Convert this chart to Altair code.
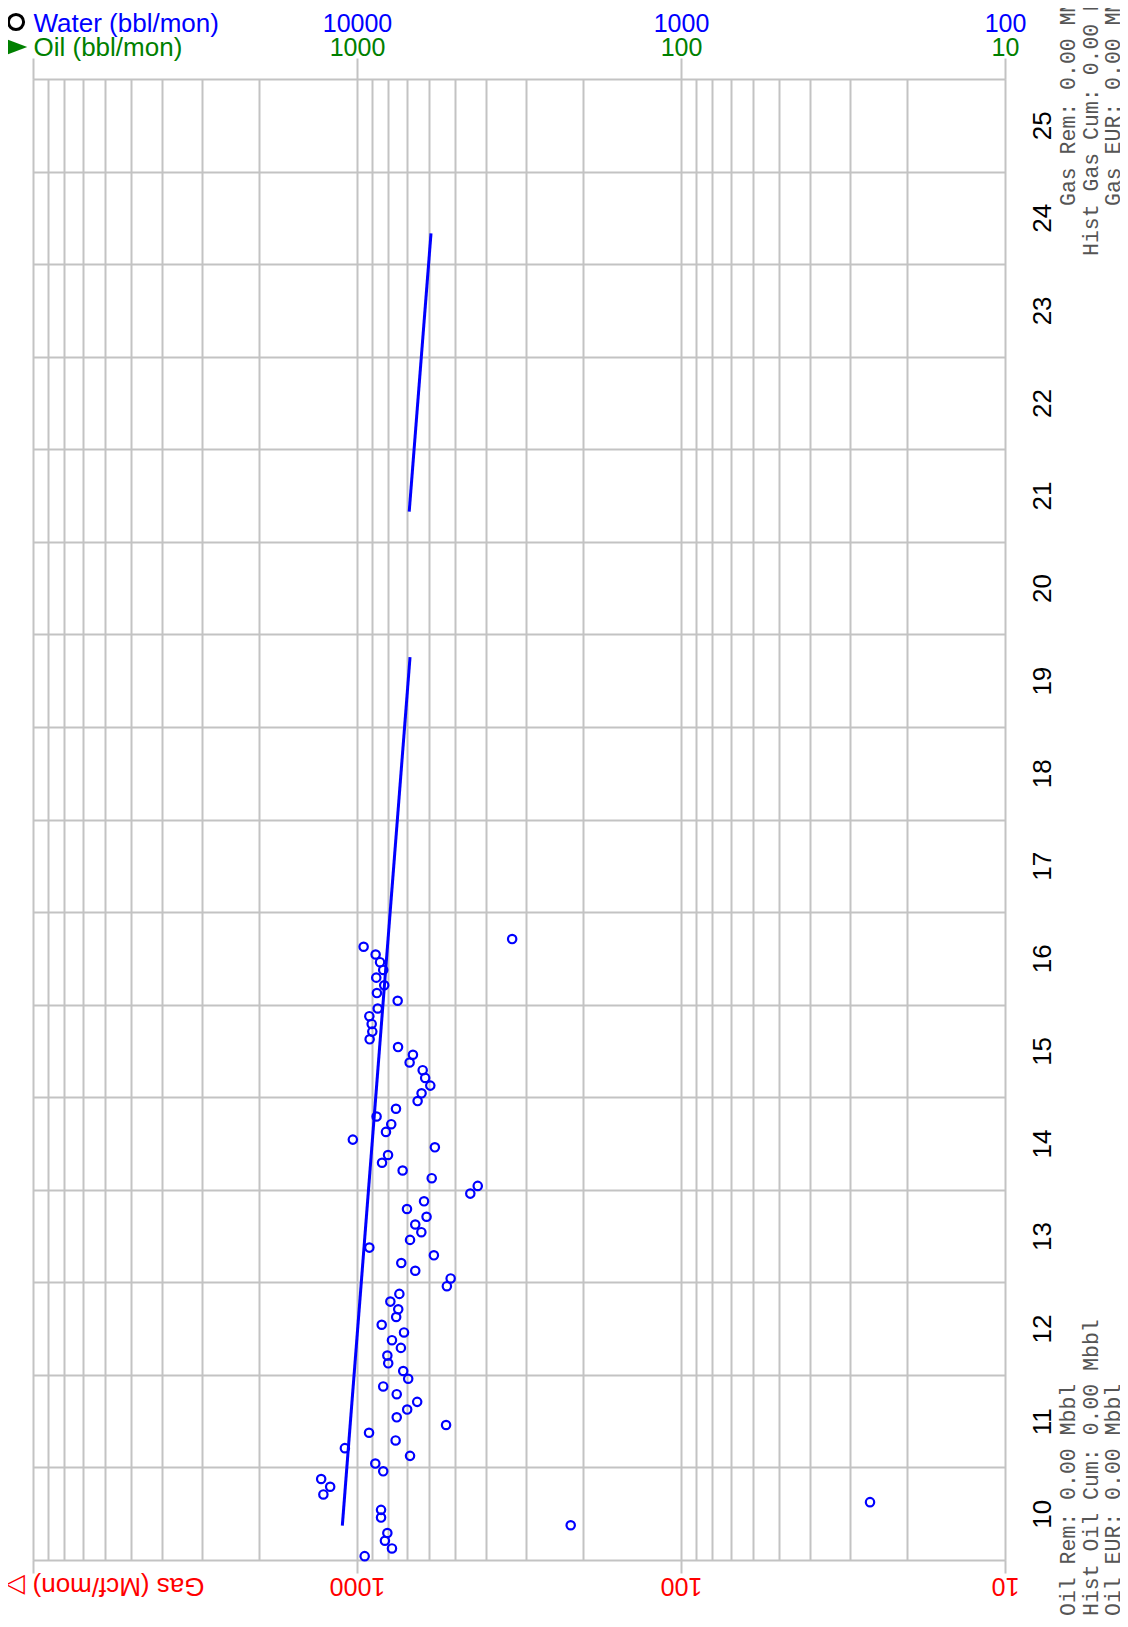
import altair as alt
import pandas as pd

# ---------------- data ----------------
# monthly observations, first month = Jan of year "10"
water = [9470, 7800, 8200, 8060, 2190, 8430, 8430, 261, 12700, 12100,
         12900, 8300, 8780, 6860, 10900, 7600, 9180, 5310, 7540, 7000,
         6520, 7540, 8300, 6950, 7200, 8010, 8060, 7320, 7800, 7160,
         8390, 7570, 7460, 7890, 7400, 5280, 5140, 6610, 7300, 5790,
         9160, 6860, 6330, 6610, 6100, 7010, 6210, 4470, 4240, 5880,
         7230, 8370, 8020, 5750, 10300, 8140, 7840, 8700, 7580, 6500,
         6320, 5940, 6160, 6270, 6880, 6720, 7470, 9140, 8970, 9010,
         9160, 8630, 7490, 8680, 8240, 8720, 8300, 8490, 8760, 9540, 3320]
first_year = 10

# decline-fit segments
fit_year = [10.371, 19.753, 21.326, 24.333]
fit_water = [11100, 6860, 6900, 5910]
fit_seg = ["a", "a", "b", "b"]

# axis values
major_vals = [100000, 10000, 1000, 100]
grid_vals = [m * 10 ** e for e in (2, 3, 4) for m in range(1, 10)] + [100000]
year_grid = list(range(10, 27))
year_label_pos = [y + 0.5 for y in range(10, 26)]

gas_notes = ["Gas Rem: 0.00 MMcf", "Hist Gas Cum: 0.00 MMcf", "Gas EUR: 0.00 MMcf"]
oil_notes = ["Oil Rem: 0.00 Mbbl", "Hist Oil Cum: 0.00 Mbbl", "Oil EUR: 0.00 Mbbl"]

obs = pd.DataFrame({
    "year": [first_year + (i + 0.5) / 12 for i in range(len(water))],
    "water": water,
})
fit = pd.DataFrame({"year": fit_year, "water": fit_water, "seg": fit_seg})
one = pd.DataFrame({"k": [0]})

# ---------------- styles ----------------
GRID = "#c3c3c3"
SANS = "Liberation Sans"
MONO = "Liberation Mono"
BLUE = "#0000ff"
GREEN = "#008000"
RED = "#ff0000"

xscale = alt.Scale(type="log", domain=[100, 100000], reverse=True, nice=False)
yscale = alt.Scale(domain=[10, 26], nice=False, zero=False)

lab = dict(labelFlush=False, labelOverlap=False, labelBound=False,
           labelFont=SANS, labelFontSize=25, labelFontWeight="normal")
ttl = dict(titleFont=SANS, titleFontSize=26, titleFontWeight="normal",
           titleBaseline="alphabetic", titleAlign="left")

# grid
grid_layer = alt.Chart(obs).mark_point(opacity=0).encode(
    x=alt.X("water:Q", scale=xscale, axis=alt.Axis(
        orient="bottom", values=grid_vals, grid=True, gridColor=GRID,
        gridWidth=2, gridOpacity=1, ticks=False, labels=False,
        domain=False, title=None)),
    y=alt.Y("year:Q", scale=yscale, axis=alt.Axis(
        orient="left", values=year_grid, grid=True, gridColor=GRID,
        gridWidth=2, gridOpacity=1, ticks=False, labels=False,
        domain=False, title=None)),
)

# decline line + top blue labels + right year labels
line_layer = alt.Chart(fit).mark_line(color=BLUE, strokeWidth=3).encode(
    x=alt.X("water:Q", scale=xscale, axis=alt.Axis(
        orient="top", values=major_vals, grid=False, domain=False,
        ticks=True, tickSize=21, tickColor=GRID, tickWidth=2,
        labelExpr="datum.value > 50000 ? '' : format(datum.value, 'd')",
        labelColor=BLUE, labelPadding=27, labelBaseline="alphabetic",
        labelAlign="center",
        title="Water (bbl/mon)", titleColor=BLUE, titleX=0, titleY=-48,
        **lab, **ttl)),
    y=alt.Y("year:Q", scale=yscale, axis=alt.Axis(
        orient="right", values=year_label_pos, grid=False, domain=False,
        ticks=True, tickSize=0, tickOpacity=0,
        labelExpr="format(floor(datum.value), 'd')",
        labelAngle=270, labelAlign="center", labelBaseline="alphabetic",
        labelPadding=45, labelColor="black", title=None,
        labelFlush=False, labelOverlap=False, labelBound=False,
        labelFont=SANS, labelFontSize=26, labelFontWeight="normal")),
    detail="seg:N",
)

# top green labels
oil_layer = alt.Chart(obs).mark_point(opacity=0).encode(
    x=alt.X("water:Q", scale=xscale, axis=alt.Axis(
        orient="top", values=major_vals, grid=False, domain=False,
        ticks=True, tickSize=0, tickOpacity=0,
        labelExpr="datum.value > 50000 ? '' : format(datum.value / 10, 'd')",
        labelColor=GREEN, labelPadding=24, labelBaseline="alphabetic",
        labelAlign="center",
        title="Oil (bbl/mon)", titleColor=GREEN, titleX=0, titleY=-24,
        **lab, **ttl)),
    y=alt.Y("year:Q", scale=yscale, axis=None),
)

# bottom red (upside-down) labels
gas_layer = alt.Chart(obs).mark_point(opacity=0).encode(
    x=alt.X("water:Q", scale=xscale, axis=alt.Axis(
        orient="bottom", values=major_vals, grid=False, domain=False,
        ticks=True, tickSize=13, tickColor=GRID, tickWidth=2,
        labelExpr="datum.value > 50000 ? '' : format(datum.value / 10, 'd')",
        labelColor=RED, labelAngle=180, labelPadding=4,
        labelBaseline="alphabetic", labelAlign="center",
        title="Gas (Mcf/mon) \u25b7", titleColor=RED, titleAngle=180,
        titleX=171, titleY=17, **lab, **ttl)),
    y=alt.Y("year:Q", scale=yscale, axis=None),
)

# observations
pts = alt.Chart(obs).mark_point(shape="circle", filled=False, color=BLUE,
                                size=70, strokeWidth=2.2, opacity=1).encode(
    x=alt.X("water:Q", scale=xscale, axis=None),
    y=alt.Y("year:Q", scale=yscale, axis=None),
)

# legend symbols
leg_circle = alt.Chart(one).mark_point(shape="circle", filled=False, color="black",
                                       size=230, strokeWidth=3, opacity=1).encode(
    x=alt.value(-17), y=alt.value(-57))
leg_tri = alt.Chart(one).mark_point(shape="M-1,-0.75L1,0L-1,0.75Z", filled=True,
                                    color=GREEN, size=420, opacity=1,
                                    strokeWidth=0).encode(
    x=alt.value(-16), y=alt.value(-32))

# side notes (rotated, monospaced)
note_x = [1042, 1065, 1087]
note_top_y = [127, 177, 127]
note_bot_y = [1537, 1537, 1537]
notes = []
for i in range(3):
    notes.append(alt.Chart(one).mark_text(
        text=gas_notes[i], angle=270, align="left", baseline="alphabetic",
        font=MONO, fontSize=21.5, color="#555555").encode(
        x=alt.value(note_x[i]), y=alt.value(note_top_y[i])))
    notes.append(alt.Chart(one).mark_text(
        text=oil_notes[i], angle=270, align="left", baseline="alphabetic",
        font=MONO, fontSize=21.5, color="#555555").encode(
        x=alt.value(note_x[i]), y=alt.value(note_bot_y[i])))

chart = alt.layer(
    grid_layer, line_layer, oil_layer, gas_layer, pts, leg_circle, leg_tri, *notes
).resolve_axis(
    x="independent", y="independent"
).properties(
    width=972, height=1481,
    autosize=alt.AutoSizeParams(type="none"),
    padding={"left": 25, "top": 71, "right": 115, "bottom": 57},
).configure_view(strokeWidth=0).configure(font=SANS)

chart.save("out.html", embed_options={"renderer": "svg", "actions": False})
